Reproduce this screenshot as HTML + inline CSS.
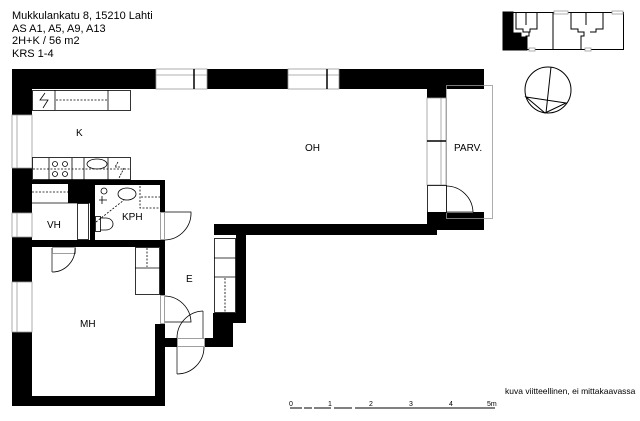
<!DOCTYPE html>
<html><head><meta charset="utf-8"><style>
html,body{margin:0;padding:0;background:#fff;}
svg{display:block;}
text{font-family:"Liberation Sans",sans-serif;fill:#000;}
</style></head><body>
<svg width="640" height="421" viewBox="0 0 640 421" xmlns="http://www.w3.org/2000/svg">
<rect width="640" height="421" fill="#fff"/>
<g font-size="11">
<text x="12" y="19">Mukkulankatu 8, 15210 Lahti</text>
<text x="12" y="32">AS A1, A5, A9, A13</text>
<text x="12" y="44">2H+K / 56 m2</text>
<text x="12" y="57">KRS 1-4</text>
</g>
<!-- key plan -->
<g stroke="#000" stroke-width="1" fill="none">
<rect x="503.5" y="12.5" width="120" height="37"/>
<path d="M503 12 h10 v21 h8 v4 h6 v13 h-24z" fill="#000"/>
<path d="M516 13 v16 h7 v3 h6 v4 h-3 v14 M537 13 v16 h-7 v3 h-6 M553 13 v37 M526 13 v12 M571 13 v16 h7 v3 h6 v4 h-3 v14 M603 13 v16 h-7 v3 h-6 M586 13 v12"/>
</g>
<g fill="#fff" stroke="#999" stroke-width="0.8"><rect x="554" y="11" width="14" height="3"/><rect x="612" y="11" width="11" height="3"/><rect x="529" y="48" width="6" height="3"/><rect x="585" y="48" width="6" height="3"/></g>
<!-- compass -->
<g stroke="#000" stroke-width="1" fill="none">
<circle cx="548" cy="90" r="23"/>
<path d="M551 67 L546 113 M526 97 L545 113 L566 103 Z"/>
</g>
<!-- walls -->
<g fill="#000">
<rect x="12" y="69" width="144" height="20"/>
<rect x="207" y="69" width="81" height="20"/>
<rect x="339" y="69" width="145" height="20"/>
<rect x="427" y="85" width="19" height="13"/>
<rect x="12" y="69" width="20" height="46"/>
<rect x="12" y="168" width="20" height="45"/>
<rect x="12" y="237" width="20" height="45"/>
<rect x="12" y="332" width="20" height="74"/>
<rect x="12" y="396" width="153" height="10"/>
<rect x="155" y="324" width="10" height="82"/>
<rect x="155" y="338" width="22" height="9"/>
<rect x="205" y="338" width="28" height="9"/>
<rect x="213" y="313" width="20" height="34"/>
<rect x="213" y="313" width="33" height="10"/>
<rect x="236" y="224" width="10" height="99"/>
<rect x="214" y="224" width="213" height="11"/>
<rect x="427" y="212" width="57" height="18"/>
<rect x="427" y="212" width="10" height="23"/>
<rect x="31" y="240" width="134" height="7"/>
<rect x="90" y="180" width="74" height="5"/>
<rect x="90" y="180" width="5" height="60"/>
<rect x="160" y="180" width="5" height="32"/>
<rect x="160" y="240" width="5" height="55"/>
<rect x="31" y="180" width="59" height="4"/>
<rect x="68" y="183" width="22" height="20"/>
</g>
<!-- windows -->
<g fill="#fff" stroke="#999" stroke-width="0.8">
<rect x="156" y="69" width="51" height="20"/><line x1="156" y1="75" x2="207" y2="75"/>
<rect x="288" y="69" width="51" height="20"/><line x1="288" y1="75" x2="339" y2="75"/>
<rect x="12" y="115" width="20" height="53"/><line x1="17" y1="115" x2="17" y2="168"/>
<rect x="12" y="213" width="20" height="24"/><line x1="17" y1="213" x2="17" y2="237"/>
<rect x="12" y="282" width="20" height="50"/><line x1="17" y1="282" x2="17" y2="332"/>
<rect x="427" y="98" width="19" height="87"/><line x1="441" y1="98" x2="441" y2="185"/>
<rect x="446.5" y="85.5" width="46" height="133" fill="none"/>
</g>
<g stroke="#000" stroke-width="1.5"><line x1="194" y1="69" x2="194" y2="89"/><line x1="327" y1="69" x2="327" y2="89"/><line x1="427" y1="141" x2="446" y2="141"/></g>
<!-- kitchen -->
<g stroke="#000" stroke-width="0.8" fill="none">
<rect x="32.5" y="90.5" width="98" height="20"/>
<line x1="55" y1="90" x2="55" y2="110"/><line x1="108" y1="90" x2="108" y2="110"/>
<path d="M45 93 l-5 7 h8 l-5 8"/>
<line x1="56" y1="100" x2="107" y2="100" stroke-dasharray="2,1.5"/>
<rect x="32.5" y="157.5" width="98" height="22"/>
<line x1="49" y1="158" x2="49" y2="180"/><line x1="72" y1="158" x2="72" y2="180"/><line x1="84" y1="158" x2="84" y2="180"/><line x1="108" y1="158" x2="108" y2="180"/>
<line x1="33" y1="169" x2="130" y2="169" stroke-dasharray="2,1.5"/>
<circle cx="55" cy="164" r="2.5"/><circle cx="65" cy="164" r="2.5"/><circle cx="55" cy="174" r="2.5"/><circle cx="65" cy="174" r="2.5"/>
<ellipse cx="97" cy="164" rx="10" ry="5"/>
<path d="M118 162 l-3 5 h5 M124 168 l-5 10" stroke-dasharray="2,1"/>
<!-- VH -->
<line x1="32" y1="192" x2="68" y2="192" stroke-dasharray="2,1.5"/>
<line x1="32" y1="203" x2="90" y2="203"/>
<rect x="77.5" y="203.5" width="11" height="36"/>
<!-- KPH -->
<path d="M140 186 v22 h20 M141 197 h19" stroke-dasharray="2,1.5"/>
<ellipse cx="127" cy="194" rx="9" ry="6"/>
<path d="M96 222 l28 -22" stroke-dasharray="2,1.5"/>
<circle cx="104" cy="191" r="3"/><path d="M102 196 v8 M99 200 h8"/>
<rect x="95.5" y="216.5" width="5" height="15"/>
<path d="M100 218 h6 a7 6 0 0 1 0 12 h-6"/>
<!-- KPH door -->
<rect x="160.5" y="212.5" width="4" height="27" stroke="#888"/>
<path d="M165 240 A27 27 0 0 0 191 212 H165"/>
<!-- VH door -->
<rect x="52.5" y="247.5" width="23" height="6" stroke="#888"/>
<line x1="52" y1="248" x2="52" y2="272" stroke="#888" stroke-width="1.5"/>
<path d="M52 272 A23 23 0 0 0 75 248"/>
<!-- MH wardrobe -->
<rect x="135.5" y="247.5" width="24" height="47"/>
<line x1="135" y1="268" x2="160" y2="268"/>
<line x1="147" y1="248" x2="147" y2="267" stroke-dasharray="2,1.5"/>
<!-- MH door -->
<rect x="160.5" y="295.5" width="4" height="28" stroke="#888"/>
<path d="M165 296 A27 27 0 0 1 191 322 H165"/>
<!-- entry door -->
<rect x="177.5" y="338.5" width="27" height="8" stroke="#888"/>
<line x1="177" y1="347" x2="177" y2="374" stroke="#888" stroke-width="1.5"/>
<path d="M177 374 A27 27 0 0 0 204 347"/>
<line x1="203" y1="311" x2="203" y2="338" stroke="#888" stroke-width="1.5"/>
<path d="M203 311 A27 27 0 0 0 177 338"/>
<!-- E closet -->
<rect x="214.5" y="238.5" width="21" height="74"/>
<line x1="214" y1="258" x2="236" y2="258"/><line x1="214" y1="277" x2="236" y2="277"/>
<line x1="225" y1="278" x2="225" y2="312" stroke-dasharray="2,1.5"/>
<!-- balcony door -->
<rect x="427.5" y="185.5" width="19" height="27"/>
<line x1="447" y1="212" x2="473" y2="212" stroke="#888" stroke-width="1.5"/>
<path d="M446 186 A27 27 0 0 1 473 212"/>
</g>
<!-- labels -->
<g font-size="10">
<text x="76" y="136">K</text>
<text x="305" y="151">OH</text>
<text x="454" y="151">PARV.</text>
<text x="122" y="220">KPH</text>
<text x="47" y="228">VH</text>
<text x="186" y="282">E</text>
<text x="80" y="327">MH</text>
</g>
<text x="505" y="394" font-size="8.5">kuva viitteellinen, ei mittakaavassa</text>
<!-- scale -->
<g stroke="#000" stroke-width="1">
<line x1="290" y1="408" x2="495" y2="408"/>
</g>
<g stroke="#fff" stroke-width="2"><line x1="302" y1="408" x2="304" y2="408"/><line x1="312" y1="408" x2="314" y2="408"/><line x1="331" y1="408" x2="334" y2="408"/><line x1="352" y1="408" x2="355" y2="408"/></g>
<g font-size="7"><text x="289" y="406">0</text><text x="328" y="406">1</text><text x="369" y="406">2</text><text x="409" y="406">3</text><text x="449" y="406">4</text><text x="487" y="406">5m</text></g>
</svg>
</body></html>
